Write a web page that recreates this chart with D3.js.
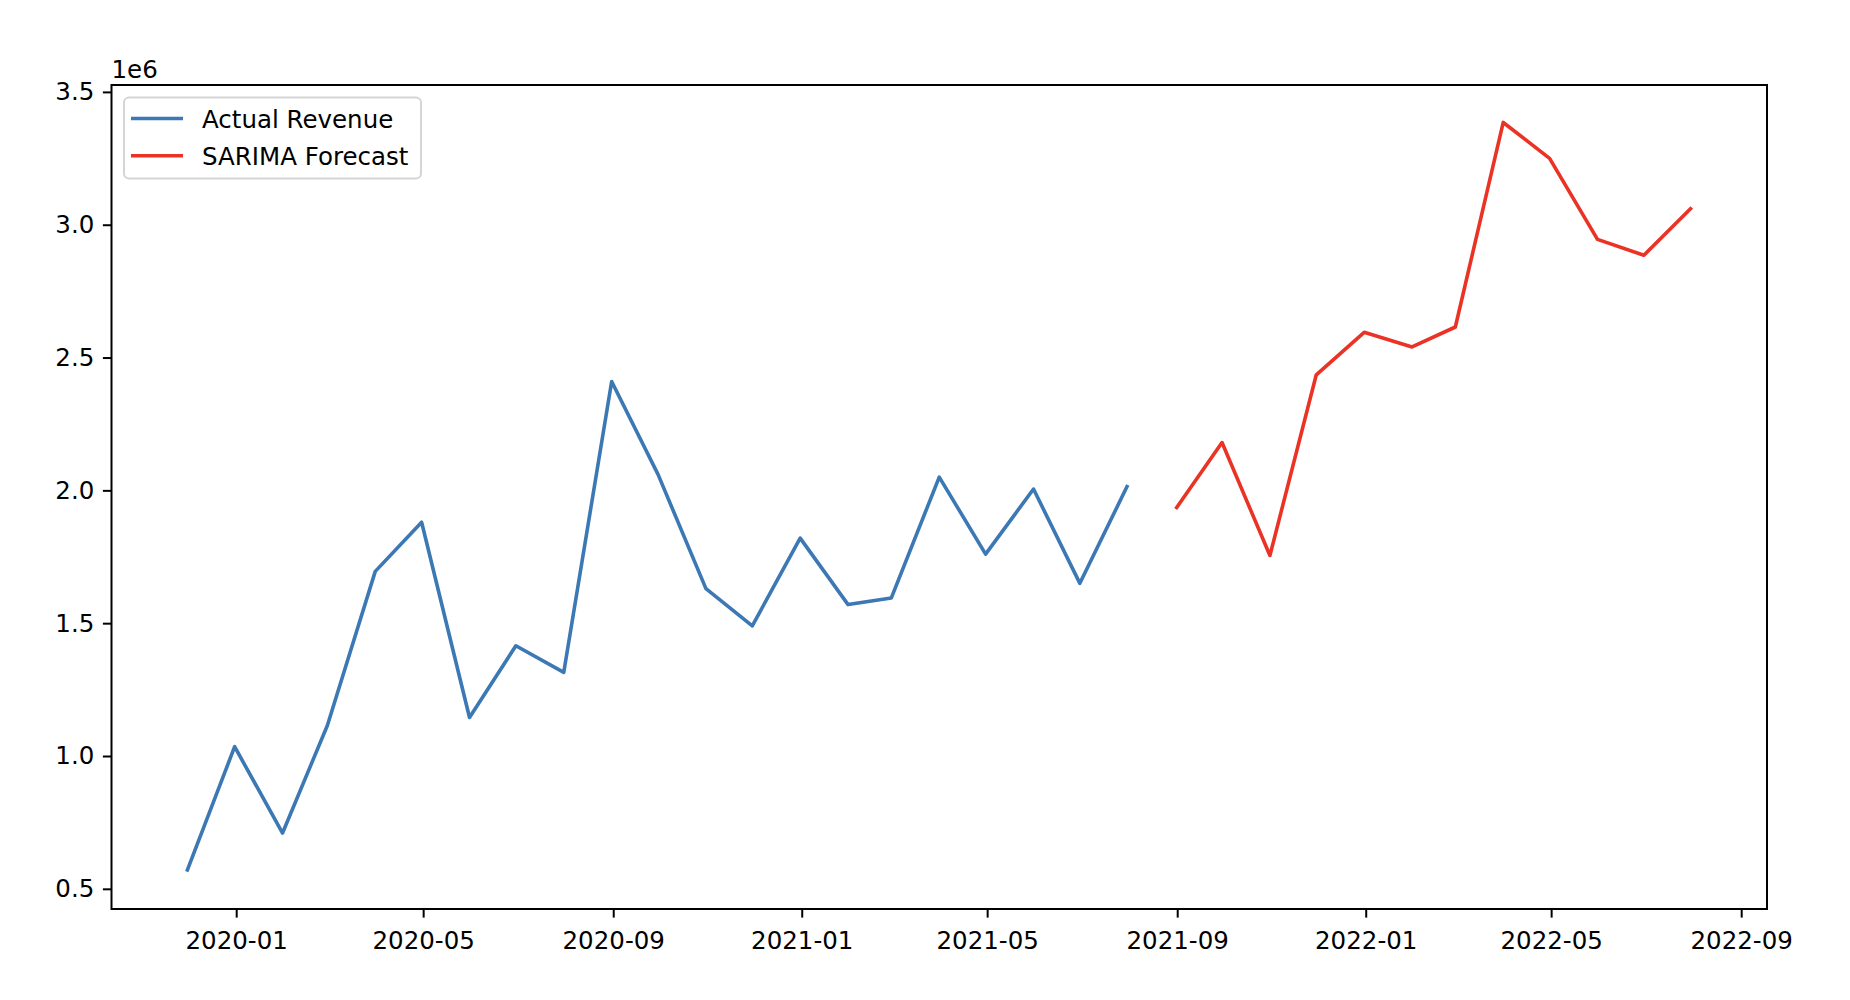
<!DOCTYPE html>
<html>
<head>
<meta charset="utf-8">
<script src="https://cdn.jsdelivr.net/npm/d3@7"></script>
<style>
  body { margin: 0; background: #ffffff; }
  text { font-family: "DejaVu Sans", sans-serif; fill: #000; }
</style>
</head>
<body>
<script>
// monthly revenue (month end)
var actualDates = ["2019-11-30","2019-12-31","2020-01-31","2020-02-29","2020-03-31","2020-04-30",
	"2020-05-31","2020-06-30","2020-07-31","2020-08-31","2020-09-30","2020-10-31","2020-11-30",
	"2020-12-31","2021-01-31","2021-02-28","2021-03-31","2021-04-30","2021-05-31","2021-06-30","2021-07-31"]
var actualRevenue = [565000, 1035000, 710000, 1115000, 1695000, 1880000, 1145000, 1415000, 1315000, 2410000,
	2060000, 1630000, 1490000, 1820000, 1570000, 1595000, 2050000, 1760000, 2005000, 1650000, 2020000]

var forecastDates = ["2021-08-31","2021-09-30","2021-10-31","2021-11-30","2021-12-31","2022-01-31",
	"2022-02-28","2022-03-31","2022-04-30","2022-05-31","2022-06-30","2022-07-31"]
var forecastRevenue = [1930000, 2180000, 1755000, 2435000, 2595000, 2540000, 2615000, 3385000,
	3250000, 2945000, 2885000, 3065000]

var yTicks = [500000, 1000000, 1500000, 2000000, 2500000, 3000000, 3500000]
var seriesNames = ["Actual Revenue", "SARIMA Forecast"]
var seriesColors = ["#3b78b4", "#ea3325"]

var fs = 24.5
var margin = {top: 85, right: 83, bottom: 91, left: 111.5}
var width = 1850 - margin.left - margin.right
var height = 1000 - margin.top - margin.bottom

var parse = d3.utcParse("%Y-%m-%d")
var actual = actualDates.map(function(d, i){ return {date: parse(d), value: actualRevenue[i]} })
var forecast = forecastDates.map(function(d, i){ return {date: parse(d), value: forecastRevenue[i]} })
var all = actual.concat(forecast)

// matplotlib style 5% padding
var xExt = d3.extent(all, function(d){ return d.date.getTime() })
var xPad = (xExt[1] - xExt[0]) * 0.05
var yExt = d3.extent(all, function(d){ return d.value })
var yPad = (yExt[1] - yExt[0]) * 0.05

var x = d3.scaleUtc()
	.domain([new Date(xExt[0] - xPad), new Date(xExt[1] + xPad)])
	.range([0, width])
var y = d3.scaleLinear()
	.domain([yExt[0] - yPad, yExt[1] + yPad])
	.range([height, 0])

var svg = d3.select("body")
	.append("svg")
	.attr("width", 1850)
	.attr("height", 1000)

svg.append("rect").attr("width", 1850).attr("height", 1000).attr("fill", "#fff")

var g = svg.append("g")
	.attr("transform", "translate(" + margin.left + "," + margin.top + ")")

// axes
var xAxis = d3.axisBottom(x)
	.ticks(d3.utcMonth.every(4))
	.tickFormat(d3.utcFormat("%Y-%m"))
	.tickSizeInner(8.6).tickSizeOuter(0).tickPadding(8.6)
var yAxis = d3.axisLeft(y)
	.tickValues(yTicks)
	.tickFormat(function(d){ return (d / 1e6).toFixed(1) })
	.tickSizeInner(8.6).tickSizeOuter(0).tickPadding(8.6)

var gx = g.append("g").attr("transform", "translate(0," + height + ")").call(xAxis)
var gy = g.append("g").call(yAxis)

gx.select(".domain").remove()
gy.select(".domain").remove()
g.selectAll(".tick line").attr("stroke", "#000").attr("stroke-width", 2)
g.selectAll(".tick text").style("font-size", fs + "px").attr("fill", "#000")
gx.selectAll(".tick text").attr("dy", "0.95em")

// lines
var line = d3.line()
	.x(function(d){ return x(d.date) })
	.y(function(d){ return y(d.value) })

g.append("path")
	.datum(actual)
	.attr("d", line)
	.attr("fill", "none")
	.attr("stroke", seriesColors[0])
	.attr("stroke-width", 3.6)
	.attr("stroke-linejoin", "round")

g.append("path")
	.datum(forecast)
	.attr("d", line)
	.attr("fill", "none")
	.attr("stroke", seriesColors[1])
	.attr("stroke-width", 3.6)
	.attr("stroke-linejoin", "round")

// frame
g.append("rect")
	.attr("width", width)
	.attr("height", height)
	.attr("fill", "none")
	.attr("stroke", "#000")
	.attr("stroke-width", 2)

// offset text
g.append("text")
	.attr("x", 0)
	.attr("y", -7)
	.style("font-size", fs + "px")
	.text("1e6")

// legend
var legend = g.append("g").attr("transform", "translate(12.5,12.5)")
legend.append("rect")
	.attr("width", 297)
	.attr("height", 81)
	.attr("rx", 5)
	.attr("fill", "#fff")
	.attr("fill-opacity", 0.8)
	.attr("stroke", "#d5d5d5")
	.attr("stroke-width", 2)

var items = legend.selectAll(".item").data(seriesNames)
	.enter().append("g")
	.attr("transform", function(d, i){ return "translate(0," + (21 + i * 37.3) + ")" })
items.append("line")
	.attr("x1", 7).attr("x2", 59)
	.attr("stroke", function(d, i){ return seriesColors[i] })
	.attr("stroke-width", 3.6)
items.append("text")
	.attr("x", 78)
	.attr("y", 9.5)
	.style("font-size", fs + "px")
	.attr("fill", "#222")
	.text(function(d){ return d })
</script>
</body>
</html>
